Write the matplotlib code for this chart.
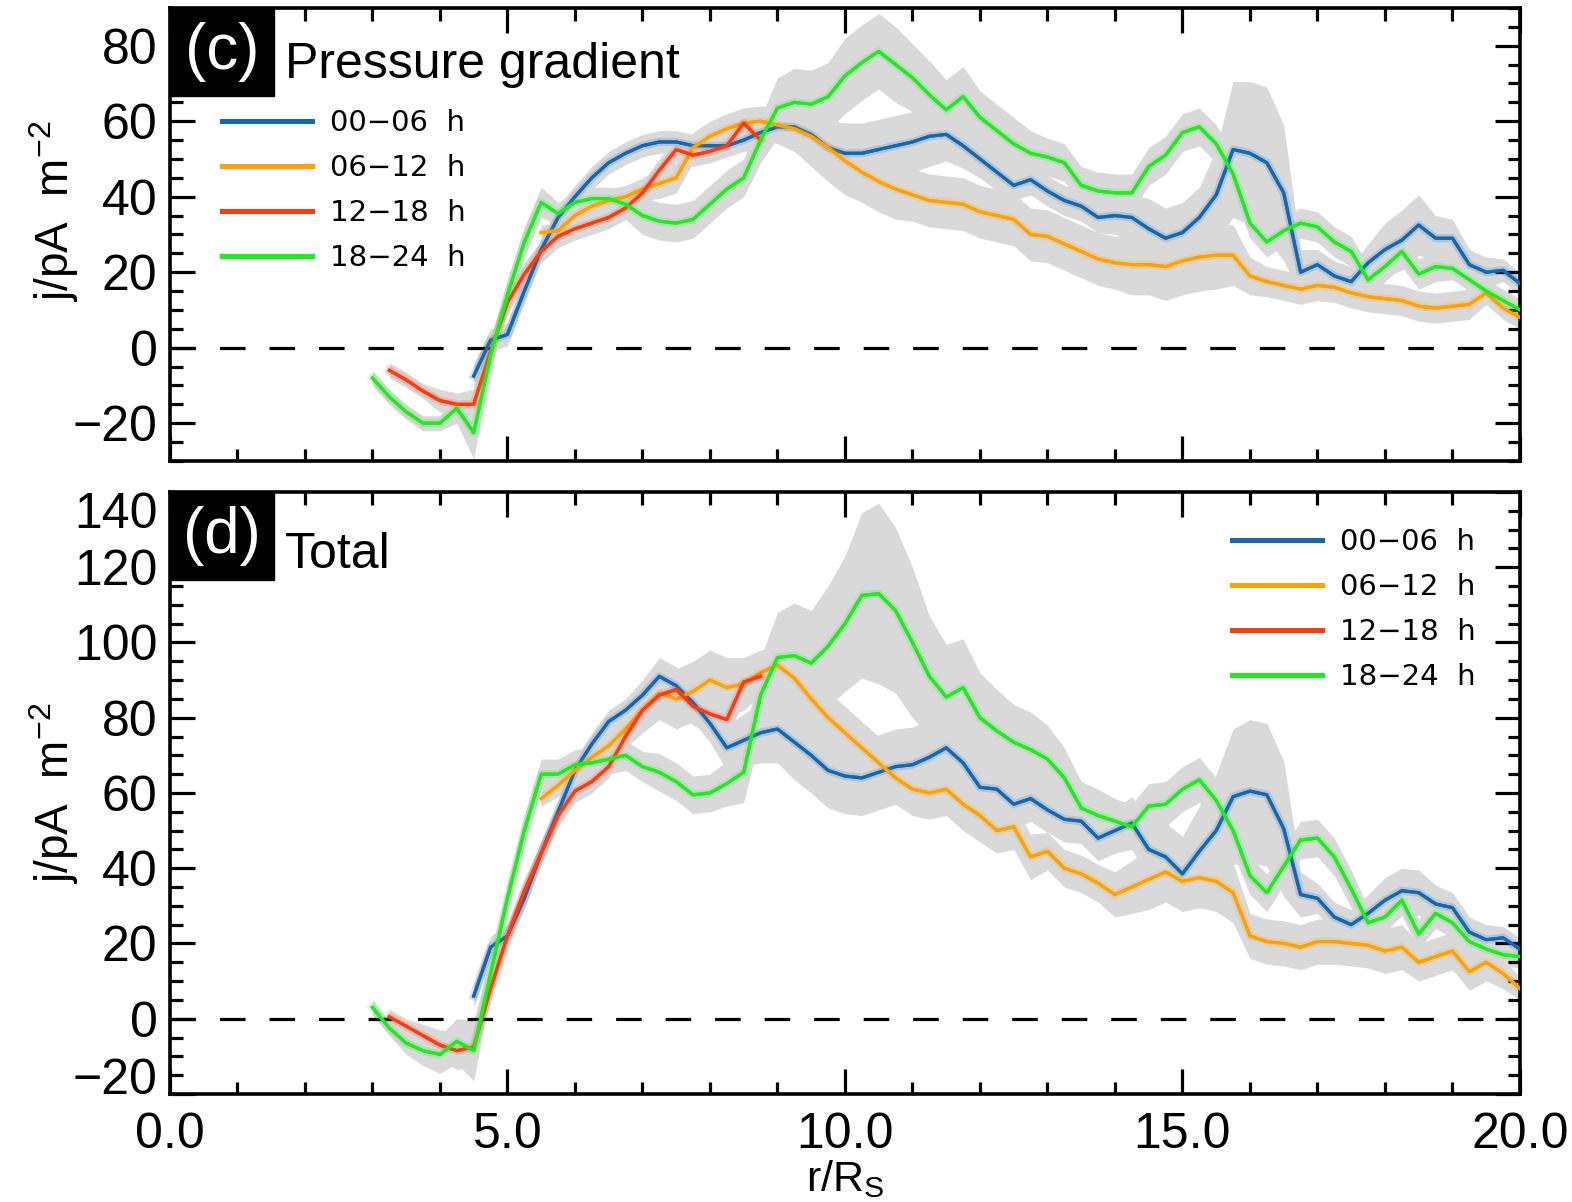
import numpy as np
import matplotlib
matplotlib.use('Agg')
import matplotlib.pyplot as plt
import matplotlib.patheffects as pe
from matplotlib.patches import Rectangle
from matplotlib.ticker import MultipleLocator, FormatStrFormatter

plt.rcParams['font.family'] = ['Liberation Sans', 'DejaVu Sans']
plt.rcParams['mathtext.fontset'] = 'custom'
plt.rcParams['mathtext.rm'] = 'Liberation Sans'
plt.rcParams['mathtext.it'] = 'Liberation Sans'

# radial bins (R_S), one grid per local-time sector
r_green = np.arange(3.0, 20.001, 0.25)
r_red = np.arange(3.25, 8.751, 0.25)
r_blue = np.arange(4.5, 20.001, 0.25)
r_orange = np.arange(5.5, 20.001, 0.25)

sectors = ['00\u221206  h', '06\u221212  h', '12\u221218  h', '18\u221224  h']
colors = ['#1268b3', '#ffa200', '#ff3a0c', '#1eec1e']

# ---- (c) pressure gradient current density, pA m^-2 ----
pg_blue = [-7.5, 2,
           3.5, 15, 26, 34.5,
           40, 45, 49, 51.5,
           53.5, 54.5, 54.5, 53.5,
           53.5, 53.5, 55, 57,
           58.5, 58.5, 56.5, 53,
           51.5, 51.5, 52.5, 53.5,
           54.5, 56, 56.5, 53.5,
           50, 46.5, 43, 44.5,
           41.5, 39, 37.5, 34.5,
           35, 34.5, 31.5, 29,
           30.5, 34.5, 40.5, 52.5,
           51.5, 49, 41, 20,
           22, 19, 17.5, 22.5,
           26, 28.5, 32.5, 29,
           29, 22, 20, 20.5,
           17]
pg_blue_err = [3, 3,
               3, 3, 3, 3,
               3, 3, 3, 3,
               3, 3, 3, 3,
               3, 3, 3, 4,
               4, 5, 6, 7,
               8, 8, 8, 8,
               8, 8, 7, 6,
               5, 5, 4, 4,
               4, 4, 4, 4,
               5, 6, 8, 8,
               8, 8, 12, 18,
               19, 20, 18, 6,
               4, 4, 4, 5,
               7, 8, 8, 6,
               5, 4, 4, 3,
               3]
pg_orange = [30.5, 31,
             35, 37.5, 39, 40,
             42, 43.5, 45, 53,
             56, 58, 59.5, 60,
             59, 58, 56, 53,
             49.5, 46.5, 44, 42,
             40.5, 39, 38.5, 38,
             36, 35, 34, 30,
             29.5, 27.5, 25.5, 23.5,
             22.5, 22, 22, 21.5,
             23, 24, 24.5, 24.5,
             19, 17.5, 16.5, 15.5,
             16.5, 16, 14.5, 13.5,
             13, 12.5, 11, 10.5,
             11, 11.5, 14.5, 10.5,
             8]
pg_orange_err = [2, 2,
                 3, 3, 3, 3,
                 3, 4, 4, 4,
                 4, 4, 4, 4,
                 5, 6, 8, 9,
                 9, 8, 8, 8,
                 7, 7, 7, 7,
                 7, 7, 7, 7,
                 7, 7, 7, 7,
                 7, 8, 8, 9,
                 9, 9, 9, 8,
                 5, 4, 4, 4,
                 4, 4, 4, 4,
                 4, 4, 4, 4,
                 4, 4, 3, 3,
                 3]
pg_red = [-6, -8.5, -11.5,
          -14, -15, -15, -1,
          12, 19.5, 25.5, 29.5,
          31.5, 33, 34.5, 37,
          41, 47, 52.5, 51,
          52, 53.5, 59.5, 55]
pg_red_err = [2, 2, 2,
              3, 3, 4, 3,
              3, 3, 3, 3,
              3, 3, 3, 3,
              3, 3, 3, 3,
              3, 3, 3, 3]
pg_green = [-8, -13, -17, -20,
            -20, -16, -22.5, -2,
            14, 28, 38.5, 35.5,
            38.5, 39.5, 39.5, 38,
            35, 33.5, 33, 34,
            38, 42, 45, 55,
            63.5, 65, 64.5, 66.5,
            72, 75.5, 78.5, 75,
            71.5, 67, 63, 66.5,
            61, 57.5, 54, 51.5,
            50.5, 49, 43, 41.5,
            41, 41, 48, 51,
            57, 58.5, 54, 46,
            33, 28, 31, 33,
            32, 28, 25.5, 18,
            21.5, 25.5, 19.5, 21.5,
            21, 18, 15, 12.5,
            10]
pg_green_err = [2, 2, 2, 2,
                2, 4, 7, 4,
                4, 4, 4, 3,
                3, 3, 3, 4,
                5, 5, 5, 5,
                5, 5, 5, 6,
                8, 9, 9, 9,
                10, 10, 10, 10,
                9, 9, 8, 8,
                7, 7, 7, 6,
                5, 5, 5, 5,
                5, 5, 5, 5,
                5, 5, 5, 5,
                4, 4, 4, 4,
                4, 4, 4, 4,
                4, 4, 4, 4,
                3, 3, 3, 3,
                3]

# ---- (d) total current density, pA m^-2 ----
tot_blue = [6, 19,
            22, 32, 44, 55,
            66, 73, 79, 82,
            86, 91, 88.5, 84,
            78.5, 72, 74, 76,
            77, 73.5, 70, 66,
            64.5, 64, 65.5, 67,
            67.5, 69.5, 72, 68,
            61.5, 61, 57, 58.5,
            55.5, 53, 52.5, 48,
            50, 52, 45, 43,
            38.5, 44.5, 50, 59,
            60.5, 59.5, 50.5, 33,
            32, 27, 25, 28,
            31.5, 34, 33.5, 30.5,
            29.5, 23, 21, 21.5,
            18.5]
tot_blue_err = [3, 3,
                3, 3, 3, 3,
                3, 3, 3, 3,
                4, 5, 5, 5,
                5, 6, 7, 8,
                9, 10, 10, 10,
                10, 10, 10, 10,
                10, 10, 9, 9,
                8, 7, 7, 6,
                6, 6, 6, 6,
                6, 7, 8, 9,
                10, 12, 15, 18,
                19, 19, 18, 6,
                4, 4, 4, 5,
                6, 6, 6, 5,
                4, 4, 4, 3,
                3]
tot_orange = [58.5, 62,
              66, 69.5, 72.5, 77,
              82, 86.5, 85, 87,
              90, 88, 89, 92,
              94, 90.5, 85, 80,
              76, 72, 68, 64,
              61, 60, 61, 57,
              54, 50, 51, 43,
              44.5, 40, 38.5, 36,
              33, 35, 37, 39,
              36.5, 37.5, 36.5, 33.5,
              22, 20.5, 20, 19,
              20.5, 20.5, 20, 19.5,
              18, 19, 15, 16.5,
              18, 12.5, 15, 12,
              8]
tot_orange_err = [2, 3,
                  3, 3, 4, 5,
                  6, 7, 8, 8,
                  8, 8, 7, 6,
                  5, 6, 7, 7,
                  7, 7, 7, 7,
                  7, 7, 7, 7,
                  7, 6, 6, 6,
                  5, 5, 5, 5,
                  6, 7, 8, 8,
                  8, 8, 8, 8,
                  6, 6, 6, 6,
                  6, 6, 6, 6,
                  6, 6, 5, 5,
                  5, 5, 5, 4,
                  3]
tot_red = [0.5, -2, -4.5,
           -7, -8.5, -7.5, 8,
           22, 34, 44, 54,
           60.5, 63, 67, 75,
           82, 86, 87.5, 83,
           81, 79.5, 89.5, 91]
tot_red_err = [2, 2, 3,
               4, 5, 5, 3,
               3, 3, 3, 3,
               3, 3, 3, 3,
               4, 5, 5, 5,
               5, 5, 5, 5]
tot_green = [3, -2.5, -6.5, -8.5,
             -9.5, -6, -8.5, 12,
             32, 50, 65, 65,
             67.5, 68, 69, 70,
             67, 65.5, 63, 59.5,
             60, 62.5, 65.5, 86,
             96, 96.5, 94.5, 99,
             105, 112.5, 113, 108.5,
             100, 91, 85.5, 88,
             80, 76.5, 73.5, 71.5,
             69, 64, 56, 54,
             52.5, 51, 56.5, 57,
             61, 63.5, 58, 50,
             38, 33.5, 40.5, 47.5,
             48, 43, 34.5, 25.5,
             27, 31.5, 22.5, 28,
             25.5, 20.5, 18.5, 17,
             16.5]
tot_green_err = [2, 2, 3, 4,
                 5, 6, 8, 5,
                 4, 4, 4, 4,
                 4, 4, 4, 4,
                 4, 5, 5, 5,
                 5, 6, 8, 10,
                 12, 14, 14, 16,
                 18, 22, 24, 22,
                 20, 16, 14, 13,
                 12, 11, 10, 10,
                 9, 8, 7, 7,
                 6, 6, 6, 6,
                 6, 6, 6, 6,
                 5, 5, 5, 5,
                 5, 5, 5, 4,
                 4, 4, 4, 4,
                 4, 4, 3, 3,
                 3]

panel_c = [(r_blue, pg_blue, pg_blue_err),
           (r_orange, pg_orange, pg_orange_err),
           (r_red, pg_red, pg_red_err),
           (r_green, pg_green, pg_green_err)]
panel_d = [(r_blue, tot_blue, tot_blue_err),
           (r_orange, tot_orange, tot_orange_err),
           (r_red, tot_red, tot_red_err),
           (r_green, tot_green, tot_green_err)]

fig = plt.figure(figsize=(15.72, 12.02), dpi=100)
ax_c = fig.add_axes([0.1081, 0.6165, 0.8588, 0.3769])
ax_d = fig.add_axes([0.1081, 0.0899, 0.8588, 0.5008])


def draw_panel(ax, series):
    # shaded uncertainty first, then the zero line, then the sector curves
    for r, j, err in series:
        j = np.asarray(j)
        err = np.asarray(err)
        ax.fill_between(r, j - err, j + err, color='#d9d9d9', lw=0, zorder=1)
    ax.axhline(0, color='black', lw=2.3, ls=(0, (8, 7.5)), zorder=2)
    for (r, j, err), c, lab in zip(series, colors, sectors):
        ax.plot(r, j, color=c, lw=2.3, label=lab, zorder=3,
                path_effects=[pe.withStroke(linewidth=6, foreground=c, alpha=0.18),
                              pe.Normal()])


def style_axes(ax, ymin, ymax):
    ax.set_xlim(0, 20)
    ax.set_ylim(ymin, ymax)
    ax.xaxis.set_major_locator(MultipleLocator(5))
    ax.xaxis.set_minor_locator(MultipleLocator(1))
    ax.xaxis.set_major_formatter(FormatStrFormatter('%.1f'))
    ax.yaxis.set_major_locator(MultipleLocator(20))
    ax.yaxis.set_minor_locator(MultipleLocator(5))
    ax.tick_params(which='both', direction='in', top=True, right=True,
                   width=2.3, labelsize=36, pad=9)
    ax.tick_params(which='major', length=18)
    ax.tick_params(which='minor', length=9)
    for sp in ax.spines.values():
        sp.set_linewidth(2.6)
    ax.set_ylabel(r'j/pA  m$^{\mathregular{-2}}$', fontsize=33)


def panel_tag(ax, tag, title, box_h, title_y):
    ax.add_patch(Rectangle((0, 1 - box_h), 0.077, box_h, transform=ax.transAxes,
                           color='black', zorder=6, clip_on=False))
    ax.text(0.0385, 1 - box_h / 2, tag, transform=ax.transAxes, color='white',
            fontsize=46, ha='center', va='center', zorder=7)
    ax.text(0.085, title_y, title, transform=ax.transAxes, fontsize=36,
            ha='left', va='center', zorder=7)


def sector_legend(ax, anchor):
    leg = ax.legend(loc='upper left', bbox_to_anchor=anchor, frameon=False,
                    prop={'family': 'DejaVu Sans', 'size': 21},
                    handlelength=3.08, handletextpad=0.62, labelspacing=0.58,
                    borderpad=0, borderaxespad=0)
    for line in leg.get_lines():
        line.set_linewidth(3.6)
        line.set_path_effects([])
    return leg


draw_panel(ax_c, panel_c)
style_axes(ax_c, -30, 90)
ax_c.set_yticks([-20, 0, 20, 40, 60, 80])
ax_c.tick_params(labelbottom=False)
ax_c.yaxis.set_label_coords(-0.066, 0.55)
panel_tag(ax_c, '(c)', 'Pressure gradient', 0.194, 0.875)
sector_legend(ax_c, (0.0385, 0.777))

draw_panel(ax_d, panel_d)
style_axes(ax_d, -20, 140)
ax_d.set_yticks([-20, 0, 20, 40, 60, 80, 100, 120, 140])
ax_d.yaxis.set_label_coords(-0.066, 0.5)
ax_d.set_xlabel(r'r/R$_{\mathregular{S}}$', fontsize=31, labelpad=0)
ax_d.tick_params(axis='x', pad=13)
ylabels = ax_d.get_yticklabels()
ylabels[0].set_va('baseline')
ylabels[-1].set_va('top')
panel_tag(ax_d, '(d)', 'Total', 0.146, 0.895)
sector_legend(ax_d, (0.787, 0.94))

fig.savefig('out.png', dpi=100)
